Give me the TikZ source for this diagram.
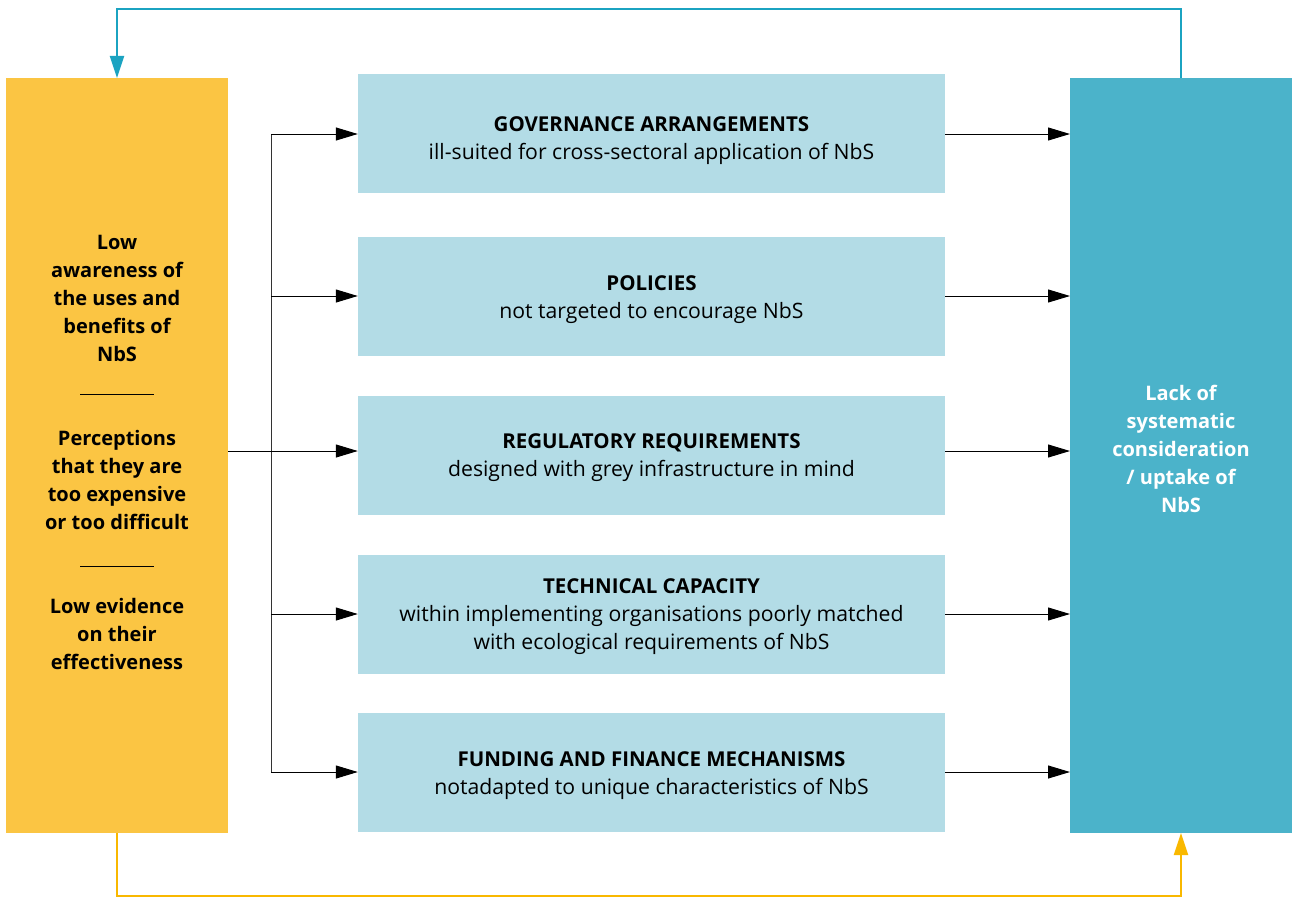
\documentclass[tikz,border=0pt]{standalone}
\usepackage{fontspec}
\setmainfont{Open Sans}
\usetikzlibrary{arrows.meta}
\definecolor{yel}{HTML}{FBC543}
\definecolor{teal1}{HTML}{4BB3CA}
\definecolor{lblue}{HTML}{B3DCE6}
\definecolor{tealline}{HTML}{1BA3C1}
\definecolor{yelline}{HTML}{F9B800}
\newcommand{\ttl}[1]{{\fontsize{20.5}{28}\selectfont\bfseries #1}}
\begin{document}
\begin{tikzpicture}[x=1pt,y=-1pt,
  midbox/.style={fill=lblue,draw=none,minimum width=587pt,minimum height=119pt,inner sep=0pt},
  midtext/.style={align=center,inner sep=0pt,font=\fontsize{21.2}{28}\selectfont},
  sidebox/.style={draw=none,minimum width=222pt,minimum height=755pt,inner sep=0pt,anchor=north west},
  sidetext/.style={align=center,font=\fontsize{20}{28}\selectfont\bfseries},
  blk/.style={draw=black,line width=1pt,-{Triangle[length=22pt,width=13pt]}},
  trunk/.style={draw=black!80,line width=1pt}
]
\useasboundingbox (0,0) rectangle (1292,899);
\node[sidebox,fill=yel] (L) at (6,78) {};
\node[sidebox,fill=teal1] (R) at (1070,78) {};
\node[midbox] (m1) at (651.5,133.5) {};
\node[midbox] (m2) at (651.5,296.5) {};
\node[midbox] (m3) at (651.5,455.5) {};
\node[midbox] (m4) at (651.5,614.5) {};
\node[midbox] (m5) at (651.5,772.5) {};
\node[midtext] (x1) at (651.5,141) {\ttl{GOVERNANCE ARRANGEMENTS}\\ill-suited for cross-sectoral application of NbS};
\node[midtext] (x2) at (651.5,299.5) {\ttl{POLICIES}\\not targeted to encourage NbS};
\node[midtext] (x3) at (651.5,458) {\ttl{REGULATORY REQUIREMENTS}\\designed with grey infrastructure in mind};
\node[midtext] (x4) at (651.5,616.5) {\ttl{TECHNICAL CAPACITY}\\within implementing organisations poorly matched\\with ecological requirements of NbS};
\node[midtext] (x5) at (651.5,776) {\ttl{FUNDING AND FINANCE MECHANISMS}\\notadapted to unique characteristics of NbS};
\node[sidetext] (t1) at (117,298) {Low\\awareness of\\the uses and\\benefits of\\NbS};
\node[sidetext] (t2) at (117,480) {Perceptions\\that they are\\too expensive\\or too difficult};
\node[sidetext] (t3) at (117,634) {Low evidence\\on their\\effectiveness};
\node[sidetext,text=white] (t4) at (1181,449) {Lack of\\systematic\\consideration\\/ uptake of\\NbS};
\coordinate (s1a) at (80,394); \coordinate (s1b) at (154,394);
\coordinate (s2a) at (80,566); \coordinate (s2b) at (154,566);
\draw[line width=1pt] (s1a) -- (s1b);
\draw[line width=1pt] (s2a) -- (s2b);
% trunk
\coordinate (tt) at (271,134);
\coordinate (tb) at (271,772);
\draw[trunk] (tt) -- (tb);
\draw[blk] (L.east |- 0,451) -- (m3.west |- 0,451);
\draw[blk] (tt) -- (m1.west |- tt);
\draw[blk] (271,296) -- (m2.west |- 0,296);
\draw[blk] (271,614) -- (m4.west |- 0,614);
\draw[blk] (tb) -- (m5.west |- tb);
\foreach \m/\y in {m1/134,m2/296,m3/451,m4/614,m5/772}{
  \draw[blk] (\m.east |- 0,\y) -- (R.west |- 0,\y);
}
\coordinate (rt) at (1181,78);
\coordinate (lt) at (117,78);
\draw[tealline,line width=2pt,-{Triangle[length=22pt,width=14pt]}] (rt) -- (1181,9) -- (117,9) -- (lt);
\coordinate (lb) at (117,833);
\coordinate (rb) at (1181,833);
\draw[yelline,line width=2pt,-{Triangle[length=22pt,width=14pt]}] (lb) -- (117,896) -- (1181,896) -- (rb);
\end{tikzpicture}
\end{document}
